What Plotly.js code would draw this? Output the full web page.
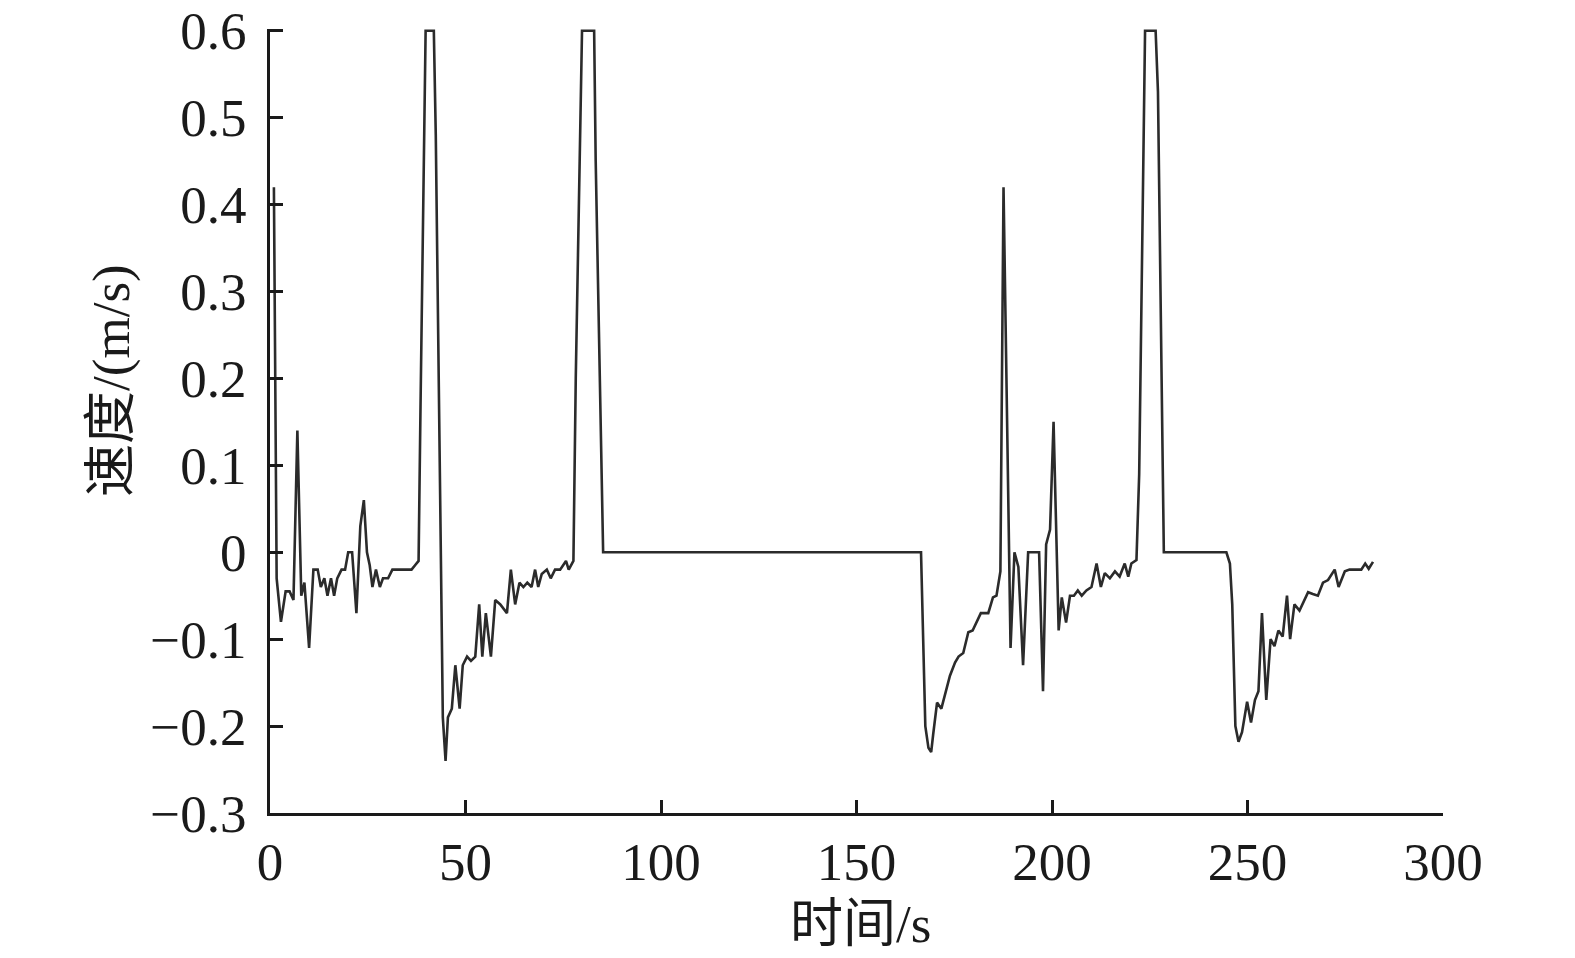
<!DOCTYPE html>
<html>
<head>
<meta charset="utf-8">
<script src="https://cdn.plot.ly/plotly-3.0.1.min.js"></script>
<style>
  html, body { margin: 0; padding: 0; background: #fff; }
  #graphDiv { width: 1575px; height: 958px; }
</style>
</head>
<body>
<div id="graphDiv"></div>
<script>
// time (s) and speed (m/s)
var timeS = [
  1, 1.7, 2.8, 4.0, 5.0, 6.0, 7.0, 8.0, 8.8, 10.0,
  11.1, 12.2, 13.0, 13.9, 14.7, 15.6, 16.4, 17.2, 18.3, 19.2,
  20.0, 21.0, 22.1, 23.1, 24.0, 24.8, 25.5, 26.2, 27.1, 28.1,
  28.9, 30.2, 31.3, 36.2, 37.1, 38.0, 38.5, 39.8, 41.9, 42.4,
  44.2, 44.9, 45.5, 46.5, 47.4, 48.5, 49.3, 50.4, 51.4, 52.5,
  53.5, 54.3, 55.2, 56.5, 57.6, 58.9, 60.6, 61.6, 62.7, 63.8,
  64.8, 65.8, 66.9, 67.8, 68.6, 69.5, 70.8, 71.8, 72.9, 74.2,
  75.7, 76.4, 77.6, 78.2, 79.8, 82.9, 83.3, 85.2, 166.5, 167.6,
  168.4, 169.1, 169.6, 170.6, 171.7, 172.7, 173.9, 175.2, 176.1, 177.3,
  178.6, 179.7, 180.8, 181.8, 183.7, 184.9, 185.8, 186.8, 187.6, 189.4,
  190.4, 191.4, 192.6, 193.9, 196.7, 197.7, 198.5, 199.5, 200.4, 201.7,
  202.5, 203.6, 204.6, 205.6, 206.6, 207.6, 208.8, 210.1, 211.4, 212.5,
  213.5, 214.8, 216.1, 217.3, 218.6, 219.5, 220.3, 221.6, 222.3, 223.8,
  226.5, 227.1, 228.6, 244.6, 245.5, 246.1, 246.9, 247.7, 248.6, 249.9,
  250.9, 251.9, 252.8, 253.7, 254.8, 255.9, 256.9, 257.9, 259.0, 260.1,
  260.9, 262.0, 263.3, 264.6, 265.5, 266.7, 268.0, 269.3, 270.6, 272.3,
  273.3, 274.9, 276.1, 279.1, 280.1, 281.0, 282.1
];
var speed = [
  0.42, -0.03, -0.08, -0.045, -0.045, -0.055, 0.14, -0.05, -0.035, -0.11,
  -0.02, -0.02, -0.04, -0.03, -0.05, -0.03, -0.05, -0.03, -0.02, -0.02,
  0.0, 0.0, -0.07, 0.03, 0.06, 0.0, -0.015, -0.04, -0.02, -0.04,
  -0.03, -0.03, -0.02, -0.02, -0.015, -0.01, 0.17, 0.6, 0.6, 0.48,
  -0.19, -0.24, -0.19, -0.18, -0.13, -0.18, -0.13, -0.12, -0.125, -0.12,
  -0.06, -0.12, -0.07, -0.12, -0.055, -0.06, -0.07, -0.02, -0.06, -0.035,
  -0.04, -0.035, -0.04, -0.02, -0.04, -0.025, -0.02, -0.03, -0.02, -0.02,
  -0.01, -0.02, -0.01, 0.2, 0.6, 0.6, 0.45, 0.0, 0.0, -0.2,
  -0.225, -0.23, -0.21, -0.173, -0.18, -0.162, -0.142, -0.127, -0.12, -0.116,
  -0.092, -0.09, -0.079, -0.07, -0.07, -0.052, -0.05, -0.022, 0.42, -0.11,
  0.0, -0.017, -0.13, 0.0, 0.0, -0.16, 0.009, 0.026, 0.15, -0.09,
  -0.052, -0.081, -0.05, -0.05, -0.044, -0.05, -0.044, -0.04, -0.013, -0.04,
  -0.024, -0.03, -0.022, -0.028, -0.013, -0.028, -0.013, -0.009, 0.09, 0.6,
  0.6, 0.53, 0.0, 0.0, -0.013, -0.06, -0.2, -0.218, -0.207, -0.172,
  -0.196, -0.17, -0.16, -0.07, -0.17, -0.1, -0.108, -0.09, -0.097, -0.05,
  -0.1, -0.06, -0.067, -0.054, -0.046, -0.048, -0.05, -0.035, -0.032, -0.02,
  -0.04, -0.022, -0.02, -0.02, -0.013, -0.019, -0.011
];

var xTicks = [0, 50, 100, 150, 200, 250, 300];
var yTicks = [-0.3, -0.2, -0.1, 0, 0.1, 0.2, 0.3, 0.4, 0.5, 0.6];
var yTickText = ['\u22120.3', '\u22120.2', '\u22120.1', '0', '0.1', '0.2', '0.3', '0.4', '0.5', '0.6'];
var xTitle = '时间/s';
var yTitle = '速度/(m/s)';

var fontFam = '"Liberation Serif", "Noto Sans CJK SC", serif';
var ink = '#1a1a1a';

var trace = {
  x: timeS,
  y: speed,
  type: 'scatter',
  mode: 'lines',
  line: { color: '#2b2b2b', width: 2.6 },
  showlegend: false
};

var layout = {
  width: 1575,
  height: 958,
  margin: { l: 270, r: 132, t: 29, b: 145 },
  paper_bgcolor: '#fff',
  plot_bgcolor: '#fff',
  font: { family: fontFam, size: 53, color: ink },
  xaxis: {
    range: [0, 300],
    tickvals: xTicks,
    ticks: 'inside',
    ticklen: 13,
    tickwidth: 3,
    tickcolor: ink,
    showline: true,
    linewidth: 3,
    linecolor: ink,
    showgrid: false,
    zeroline: false,
    ticklabelstandoff: 0
  },
  yaxis: {
    range: [-0.3, 0.602],
    tickvals: yTicks,
    ticktext: yTickText,
    ticks: 'inside',
    ticklen: 13,
    tickwidth: 3,
    tickcolor: ink,
    showline: true,
    linewidth: 3,
    linecolor: ink,
    showgrid: false,
    zeroline: false,
    ticklabelstandoff: 10
  },
  annotations: [
    {
      text: xTitle, xref: 'paper', yref: 'paper',
      x: 0.503, y: -0.142, xanchor: 'center', yanchor: 'middle',
      showarrow: false, font: { family: fontFam, size: 53, color: ink }
    },
    {
      text: yTitle, xref: 'paper', yref: 'paper', textangle: -90,
      x: -0.1347, y: 0.5524, xanchor: 'center', yanchor: 'middle',
      showarrow: false, font: { family: fontFam, size: 53, color: ink }
    }
  ]
};

Plotly.newPlot('graphDiv', [trace], layout, { staticPlot: true });
</script>
</body>
</html>
